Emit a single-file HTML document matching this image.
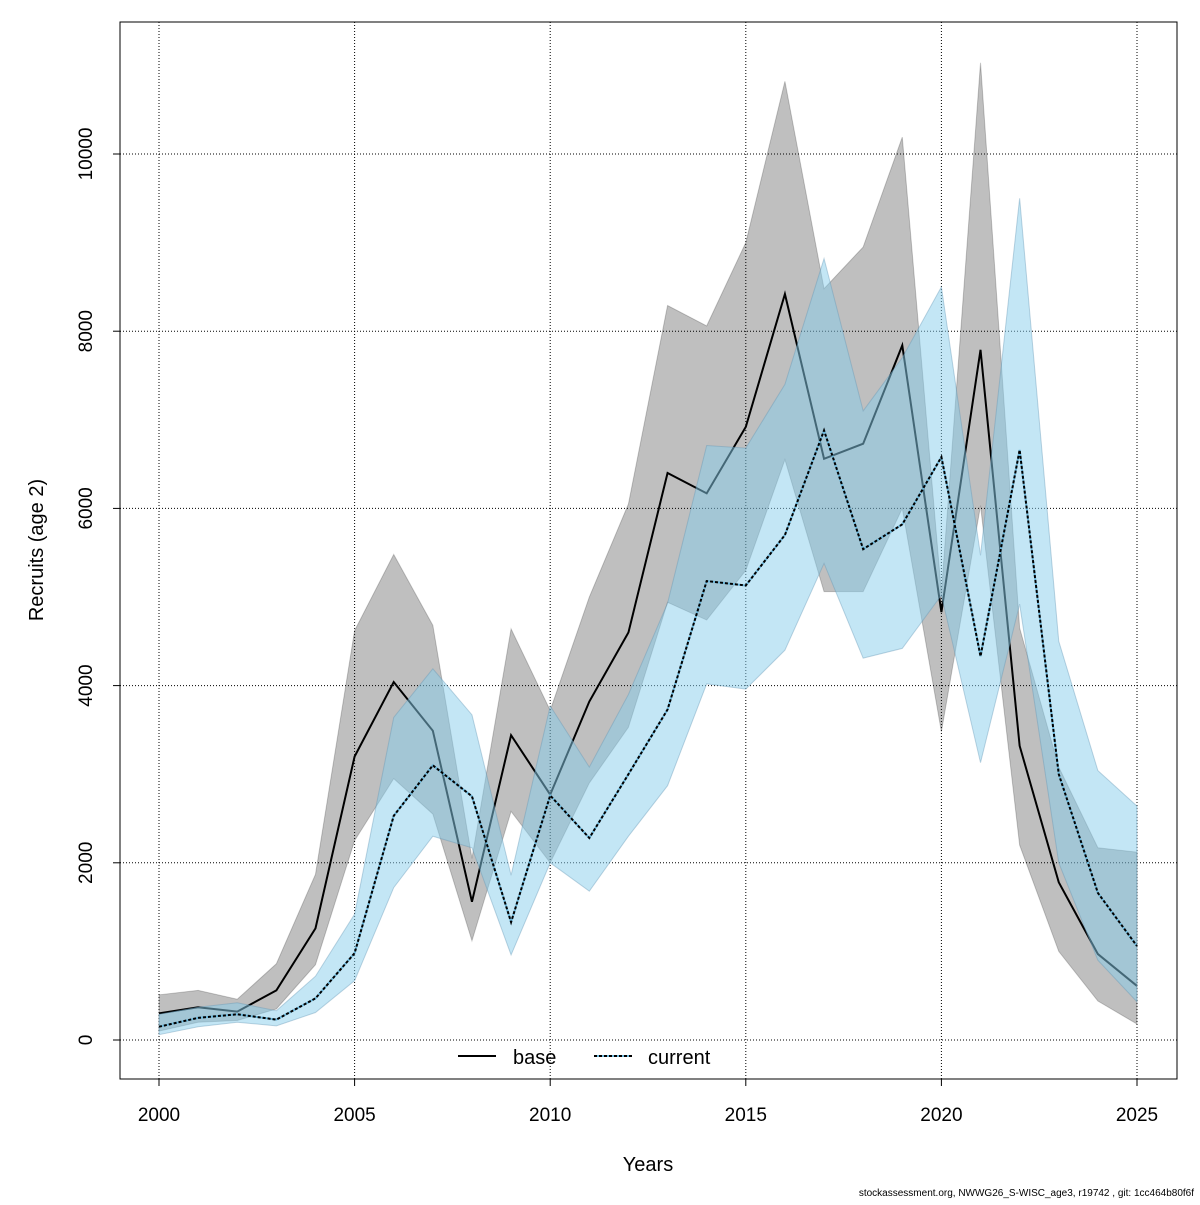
<!DOCTYPE html>
<html><head><meta charset="utf-8"><style>
body{margin:0;background:#fff;}
svg text{font-family:"Liberation Sans",sans-serif;}
</style></head><body>
<svg id="chart" width="1200" height="1200" xmlns="http://www.w3.org/2000/svg"></svg>
<script>
const years=[2000,2001,2002,2003,2004,2005,2006,2007,2008,2009,2010,2011,2012,2013,2014,2015,2016,2017,2018,2019,2020,2021,2022,2023,2024,2025];
const baseVal=[300,370,320,560,1260,3200,4040,3490,1560,3440,2770,3820,4600,6400,6170,6920,8420,6560,6730,7840,4830,7790,3320,1780,970,610];
const baseHi=[510,560,460,860,1870,4620,5480,4680,2050,4640,3720,5000,6050,8290,8060,9000,10820,8480,8950,10190,5050,11030,4650,3080,2170,2120];
const baseLo=[100,200,220,350,850,2250,2950,2550,1120,2580,2000,2900,3530,4940,4740,5300,6550,5060,5060,6000,3480,6030,2200,1000,440,180];
const curVal=[150,250,290,230,470,980,2530,3100,2750,1330,2760,2280,3000,3730,5180,5130,5700,6880,5540,5820,6580,4330,6660,3000,1660,1060];
const curHi=[290,370,420,330,720,1420,3640,4190,3670,1860,3770,3080,3900,4930,6710,6680,7400,8820,7100,7700,8500,5470,9500,4500,3040,2640];
const curLo=[60,150,200,160,310,670,1720,2300,2170,960,2000,1680,2300,2870,4020,3960,4400,5380,4310,4420,5020,3130,4920,2000,900,430];
const xTicks=[2000,2005,2010,2015,2020,2025];
const yTicks=[0,2000,4000,6000,8000,10000];

const NS="http://www.w3.org/2000/svg";
const svg=document.getElementById('chart');
const X=v=>159+(v-2000)*(1137-159)/25;
const Y=v=>1040-v*(1040-154)/10000;
function mk(tag,attrs,parent){const e=document.createElementNS(NS,tag);for(const k in attrs)e.setAttribute(k,attrs[k]);(parent||svg).appendChild(e);return e;}

xTicks.forEach(t=>{const l=mk('line',{x1:X(t),x2:X(t),y1:22,y2:1079,stroke:'#000','stroke-width':1,'stroke-dasharray':'1,2'});

});
yTicks.forEach(t=>{const l=mk('line',{x1:120,x2:1177,y1:Y(t),y2:Y(t),stroke:'#000','stroke-width':1,'stroke-dasharray':'1,2'});

});

function band(hi,lo,fill,stroke,name){
  let pts=years.map((y,i)=>X(y)+','+Y(hi[i]));
  for(let i=years.length-1;i>=0;i--)pts.push(X(years[i])+','+Y(lo[i]));
  const p=mk('polygon',{points:pts.join(' '),fill:fill,stroke:stroke,'stroke-width':1});
  
  
}
function line(vals,attrs,name){
  const p=mk('polyline',Object.assign({points:years.map((y,i)=>X(y)+','+Y(vals[i])).join(' '),fill:'none'},attrs));
  
  
}
band(baseHi,baseLo,'rgba(0,0,0,0.25)','rgba(0,0,0,0.2)','base-confidence-band');
line(baseVal,{stroke:'#000','stroke-width':2},'base-line');
band(curHi,curLo,'rgba(135,206,235,0.5)','rgba(100,150,180,0.4)','current-confidence-band');
line(curVal,{stroke:'#6cb8dc','stroke-width':2},'current-line-under');
line(curVal,{stroke:'#000','stroke-width':2,'stroke-dasharray':'3,2'},'current-line');

const box=mk('rect',{x:120,y:22,width:1057,height:1057,fill:'none',stroke:'#000','stroke-width':1});



xTicks.forEach(t=>{
  const tk=mk('line',{x1:X(t),x2:X(t),y1:1079,y2:1086,stroke:'#000'});
  
  
  const tx=mk('text',{x:X(t),y:1121,'text-anchor':'middle','font-size':19});
  tx.textContent=t;
  
  
});
yTicks.forEach(t=>{
  const tk=mk('line',{x1:113,x2:120,y1:Y(t),y2:Y(t),stroke:'#000'});
  
  
  const tx=mk('text',{x:92,y:Y(t),'text-anchor':'middle','font-size':19,transform:`rotate(-90 92 ${Y(t)})`});
  tx.textContent=t;
  
  
});
</script>
<svg style="position:absolute;left:0;top:0" width="1200" height="1200" xmlns="http://www.w3.org/2000/svg">
<text x="648" y="1171" text-anchor="middle" font-size="20">Years</text>
<text x="43" y="550" text-anchor="middle" font-size="20" transform="rotate(-90 43 550)">Recruits (age 2)</text>
<g>
<line x1="458" y1="1056" x2="496" y2="1056" stroke="#000" stroke-width="2"/>
<text x="513" y="1064" font-size="20">base</text>
<line x1="594" y1="1056" x2="632" y2="1056" stroke="#6cb8dc" stroke-width="2"/>
<line x1="594" y1="1056" x2="632" y2="1056" stroke="#000" stroke-width="2" stroke-dasharray="3,2"/>
<text x="648" y="1064" font-size="20">current</text>
</g>
<text x="1194" y="1196" text-anchor="end" font-size="10">stockassessment.org, NWWG26_S-WISC_age3, r19742 , git: 1cc464b80f6f</text>
</svg>
</body></html>
